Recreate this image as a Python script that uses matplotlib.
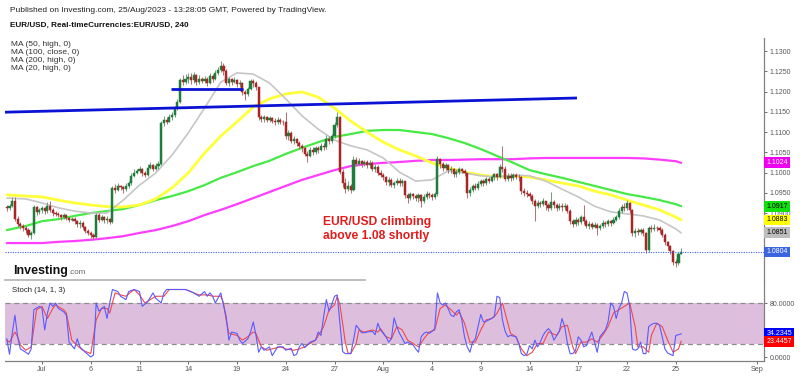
import numpy as np
import matplotlib
matplotlib.use("Agg")
import matplotlib.pyplot as plt
import matplotlib.transforms as mtransforms
from matplotlib.lines import Line2D

plt.rcParams['font.family'] = ['Liberation Sans', 'DejaVu Sans']

# ------------------------------------------------------------------ data
# time axis = trading-day index (0 = Mon 3 Jul 2023), six 4-hour candles per day
first_day = -2 - 1/6          # first visible candle: last 4h bar of Jun 28
first_open = 1.0915

closes = [
    1.0912,                                              # Jun 28
    1.0918, 1.0930, 1.0886, 1.0872, 1.0868, 1.0864,      # Jun 29
    1.0858, 1.0846, 1.0850, 1.0915, 1.0902, 1.0908,      # Jun 30
    1.0912, 1.0905, 1.0918, 1.0908, 1.0900, 1.0898,      # Jul 3
    1.0895, 1.0890, 1.0896, 1.0888, 1.0884, 1.0886,      # Jul 4
    1.0880, 1.0872, 1.0876, 1.0866, 1.0856, 1.0850,      # Jul 5
    1.0845, 1.0840, 1.0895, 1.0884, 1.0890, 1.0882,      # Jul 6
    1.0886, 1.0878, 1.0962, 1.0958, 1.0966, 1.0964,      # Jul 7
    1.0960, 1.0968, 1.0975, 1.0992, 1.1000, 1.1004,      # Jul 10
    1.1008, 1.0998, 1.0994, 1.1012, 1.1018, 1.1010,      # Jul 11
    1.1016, 1.1022, 1.1122, 1.1130, 1.1126, 1.1138,      # Jul 12
    1.1142, 1.1160, 1.1175, 1.1228, 1.1224, 1.1230,      # Jul 13
    1.1236, 1.1228, 1.1240, 1.1224, 1.1230, 1.1226,      # Jul 14
    1.1230, 1.1222, 1.1238, 1.1232, 1.1246, 1.1252,      # Jul 17
    1.1262, 1.1250, 1.1222, 1.1230, 1.1224, 1.1228,      # Jul 18
    1.1218, 1.1222, 1.1200, 1.1194, 1.1206, 1.1226,      # Jul 19
    1.1222, 1.1210, 1.1138, 1.1132, 1.1136, 1.1130,      # Jul 20
    1.1134, 1.1128, 1.1124, 1.1130, 1.1126, 1.1124,      # Jul 21
    1.1090, 1.1098, 1.1078, 1.1082, 1.1072, 1.1066,      # Jul 24
    1.1060, 1.1046, 1.1042, 1.1056, 1.1050, 1.1060,      # Jul 25
    1.1056, 1.1066, 1.1062, 1.1084, 1.1078, 1.1090,      # Jul 26
    1.1118, 1.1138, 1.1002, 1.0975, 1.0960, 1.0966,      # Jul 27
    1.0958, 1.1030, 1.1022, 1.1028, 1.1020, 1.1026,      # Jul 28
    1.1018, 1.1024, 1.1010, 1.1014, 1.1000, 1.0994,      # Jul 31
    1.0988, 1.0976, 1.0982, 1.0970, 1.0974, 1.0980,      # Aug 1
    1.0974, 1.0978, 1.0944, 1.0938, 1.0946, 1.0942,      # Aug 2
    1.0936, 1.0944, 1.0930, 1.0940, 1.0948, 1.0944,      # Aug 3
    1.0940, 1.0946, 1.1034, 1.1020, 1.1012, 1.1018,      # Aug 4
    1.1006, 1.1010, 1.0996, 1.1002, 1.1008, 1.1004,      # Aug 7
    1.0998, 1.0950, 1.0958, 1.0966, 1.0962, 1.0972,      # Aug 8
    1.0978, 1.0974, 1.0984, 1.0980, 1.0988, 1.0996,      # Aug 9
    1.0990, 1.1014, 1.1010, 1.0984, 1.0992, 1.0986,      # Aug 10
    1.0994, 1.0990, 1.0988, 1.0954, 1.0950, 1.0946,      # Aug 11
    1.0942, 1.0930, 1.0918, 1.0926, 1.0922, 1.0930,      # Aug 14
    1.0920, 1.0912, 1.0928, 1.0920, 1.0912, 1.0918,      # Aug 15
    1.0914, 1.0918, 1.0906, 1.0880, 1.0874, 1.0884,      # Aug 16
    1.0878, 1.0890, 1.0880, 1.0868, 1.0872, 1.0866,      # Aug 17
    1.0870, 1.0862, 1.0868, 1.0876, 1.0872, 1.0880,      # Aug 18
    1.0876, 1.0884, 1.0890, 1.0904, 1.0916, 1.0912,      # Aug 21
    1.0924, 1.0908, 1.0850, 1.0856, 1.0854, 1.0858,      # Aug 22
    1.0850, 1.0808, 1.0864, 1.0860, 1.0864, 1.0862,      # Aug 23
    1.0858, 1.0846, 1.0828, 1.0818, 1.0806, 1.0780,      # Aug 24
    1.0776, 1.0800, 1.0804,                              # Aug 25
]

highs = [
    1.0920,
    1.0922, 1.0940, 1.0940, 1.0892, 1.0878, 1.0873,
    1.0868, 1.0862, 1.0856, 1.0921, 1.0917, 1.0913,
    1.0918, 1.0915, 1.0928, 1.0930, 1.0912, 1.0905,
    1.0902, 1.0898, 1.0900, 1.0898, 1.0890, 1.0890,
    1.0890, 1.0884, 1.0882, 1.0880, 1.0868, 1.0860,
    1.0855, 1.0852, 1.0900, 1.0900, 1.0896, 1.0894,
    1.0892, 1.0888, 1.0966, 1.0972, 1.0975, 1.0970,
    1.0968, 1.0974, 1.0980, 1.0998, 1.1008, 1.1010,
    1.1015, 1.1012, 1.1004, 1.1020, 1.1026, 1.1022,
    1.1024, 1.1028, 1.1128, 1.1140, 1.1138, 1.1144,
    1.1150, 1.1165, 1.1182, 1.1234, 1.1240, 1.1244,
    1.1245, 1.1246, 1.1248, 1.1244, 1.1240, 1.1236,
    1.1238, 1.1236, 1.1246, 1.1244, 1.1252, 1.1260,
    1.1276, 1.1270, 1.1256, 1.1236, 1.1234, 1.1236,
    1.1230, 1.1228, 1.1224, 1.1204, 1.1212, 1.1230,
    1.1230, 1.1226, 1.1212, 1.1142, 1.1142, 1.1140,
    1.1140, 1.1138, 1.1134, 1.1136, 1.1134, 1.1130,
    1.1150, 1.1104, 1.1102, 1.1090, 1.1086, 1.1078,
    1.1070, 1.1064, 1.1052, 1.1062, 1.1064, 1.1066,
    1.1066, 1.1072, 1.1074, 1.1092, 1.1090, 1.1096,
    1.1124, 1.1149, 1.1140, 1.1008, 1.0986, 1.0980,
    1.0972, 1.1040, 1.1038, 1.1036, 1.1032, 1.1032,
    1.1030, 1.1030, 1.1028, 1.1020, 1.1018, 1.1006,
    1.0998, 1.0992, 1.0988, 1.0986, 1.0980, 1.0986,
    1.0986, 1.0984, 1.0980, 1.0950, 1.0952, 1.0950,
    1.0948, 1.0950, 1.0948, 1.0946, 1.0954, 1.0952,
    1.0950, 1.0952, 1.1040, 1.1036, 1.1026, 1.1024,
    1.1020, 1.1016, 1.1012, 1.1008, 1.1014, 1.1012,
    1.1008, 1.1000, 1.0964, 1.0972, 1.0974, 1.0978,
    1.0984, 1.0984, 1.0990, 1.0990, 1.0994, 1.1000,
    1.0998, 1.1020, 1.1066, 1.1016, 1.1000, 1.0998,
    1.1000, 1.1000, 1.0996, 1.0992, 1.0962, 1.0956,
    1.0952, 1.0946, 1.0934, 1.0932, 1.0930, 1.0936,
    1.0930, 1.0924, 1.0952, 1.0932, 1.0926, 1.0924,
    1.0924, 1.0926, 1.0922, 1.0910, 1.0886, 1.0890,
    1.0888, 1.0896, 1.0920, 1.0886, 1.0880, 1.0878,
    1.0878, 1.0876, 1.0874, 1.0882, 1.0880, 1.0886,
    1.0884, 1.0890, 1.0896, 1.0912, 1.0922, 1.0926,
    1.0932, 1.0928, 1.0910, 1.0864, 1.0862, 1.0864,
    1.0862, 1.0854, 1.0868, 1.0870, 1.0872, 1.0868,
    1.0868, 1.0862, 1.0850, 1.0832, 1.0822, 1.0810,
    1.0786, 1.0804, 1.0814,
]

lows = [
    1.0905,
    1.0908, 1.0914, 1.0880, 1.0866, 1.0860, 1.0857,
    1.0851, 1.0840, 1.0835, 1.0848, 1.0896, 1.0898,
    1.0900, 1.0897, 1.0900, 1.0902, 1.0893, 1.0892,
    1.0890, 1.0884, 1.0886, 1.0882, 1.0878, 1.0880,
    1.0874, 1.0866, 1.0862, 1.0860, 1.0850, 1.0845,
    1.0838, 1.0833, 1.0838, 1.0878, 1.0880, 1.0876,
    1.0876, 1.0872, 1.0875, 1.0950, 1.0955, 1.0956,
    1.0950, 1.0955, 1.0962, 1.0970, 1.0988, 1.0996,
    1.0998, 1.0992, 1.0988, 1.0992, 1.1008, 1.1004,
    1.1006, 1.1010, 1.1018, 1.1116, 1.1120, 1.1124,
    1.1130, 1.1138, 1.1155, 1.1172, 1.1215, 1.1218,
    1.1222, 1.1218, 1.1220, 1.1216, 1.1218, 1.1220,
    1.1220, 1.1214, 1.1218, 1.1224, 1.1228, 1.1240,
    1.1248, 1.1240, 1.1216, 1.1214, 1.1216, 1.1220,
    1.1212, 1.1210, 1.1192, 1.1180, 1.1190, 1.1204,
    1.1212, 1.1204, 1.1130, 1.1124, 1.1126, 1.1124,
    1.1126, 1.1122, 1.1118, 1.1120, 1.1120, 1.1118,
    1.1084, 1.1080, 1.1072, 1.1070, 1.1066, 1.1058,
    1.1050, 1.1040, 1.1026, 1.1038, 1.1044, 1.1046,
    1.1048, 1.1052, 1.1056, 1.1058, 1.1070, 1.1074,
    1.1086, 1.1112, 1.0996, 1.0964, 1.0950, 1.0954,
    1.0950, 1.0955, 1.1016, 1.1018, 1.1014, 1.1016,
    1.1012, 1.1012, 1.1004, 1.1002, 1.0994, 1.0988,
    1.0982, 1.0970, 1.0966, 1.0964, 1.0962, 1.0970,
    1.0968, 1.0966, 1.0936, 1.0925, 1.0932, 1.0934,
    1.0930, 1.0928, 1.0916, 1.0926, 1.0934, 1.0938,
    1.0932, 1.0934, 1.0942, 1.1012, 1.1004, 1.1006,
    1.1000, 1.0998, 1.0990, 1.0988, 1.0996, 1.0998,
    1.0992, 1.0937, 1.0942, 1.0952, 1.0956, 1.0958,
    1.0966, 1.0968, 1.0970, 1.0974, 1.0976, 1.0982,
    1.0982, 1.0986, 1.1002, 1.0978, 1.0980, 1.0980,
    1.0982, 1.0984, 1.0980, 1.0946, 1.0942, 1.0940,
    1.0934, 1.0922, 1.0880, 1.0912, 1.0914, 1.0918,
    1.0908, 1.0904, 1.0908, 1.0912, 1.0906, 1.0908,
    1.0906, 1.0908, 1.0900, 1.0874, 1.0866, 1.0868,
    1.0870, 1.0872, 1.0874, 1.0862, 1.0860, 1.0860,
    1.0862, 1.0846, 1.0858, 1.0864, 1.0866, 1.0868,
    1.0868, 1.0872, 1.0880, 1.0886, 1.0900, 1.0904,
    1.0908, 1.0900, 1.0844, 1.0842, 1.0846, 1.0848,
    1.0844, 1.0802, 1.0804, 1.0854, 1.0856, 1.0856,
    1.0852, 1.0840, 1.0822, 1.0808, 1.0800, 1.0772,
    1.0766, 1.0772, 1.0798,
]

# moving averages, read once per trading day (plus first / last candle)
ma_days = [first_day] + list(range(-1, 40)) + [39 + 2/6]
ma50_high = [1.0945, 1.0942, 1.0940, 1.0932, 1.0925, 1.0920, 1.0916, 1.0915, 1.0920, 1.0935,
             1.0962, 1.0999, 1.1048, 1.1090, 1.1125, 1.1162, 1.1182, 1.1194, 1.1199, 1.1186,
             1.1159, 1.1127, 1.1100, 1.1075, 1.1056, 1.1041, 1.1024, 1.1011, 1.1001, 1.0994,
             1.0989, 1.0992, 1.0989, 1.0982, 1.0974, 1.0967, 1.0954, 1.0945, 1.0932, 1.0920,
             1.0908, 1.0890, 1.0883]
ma100_close = [1.0858, 1.0868, 1.0880, 1.0885, 1.0893, 1.0900, 1.0905, 1.0910, 1.0920, 1.0932,
               1.0942, 1.0954, 1.0969, 1.0987, 1.1001, 1.1016, 1.1029, 1.1046, 1.1061, 1.1075,
               1.1088, 1.1095, 1.1103, 1.1105, 1.1105, 1.1100, 1.1095, 1.1085, 1.1073, 1.1058,
               1.1041, 1.1024, 1.1006, 1.0996, 1.0987, 1.0977, 1.0967, 1.0957, 1.0947, 1.0940,
               1.0932, 1.0922, 1.0917]
ma200_high = [1.0826, 1.0826, 1.0826, 1.0829, 1.0831, 1.0834, 1.0838, 1.0843, 1.0851, 1.0858,
              1.0868, 1.0880, 1.0895, 1.0908, 1.0922, 1.0937, 1.0952, 1.0967, 1.0982, 1.0994,
              1.1006, 1.1016, 1.1021, 1.1024, 1.1026, 1.1029, 1.1031, 1.1031, 1.1032, 1.1033,
              1.1033, 1.1033, 1.1035, 1.1036, 1.1036, 1.1036, 1.1036, 1.1036, 1.1036, 1.1035,
              1.1032, 1.1028, 1.1024]
ma20_high = [1.0937, 1.0935, 1.0925, 1.0913, 1.0905, 1.0900, 1.0900, 1.0932, 1.0969, 1.0999,
             1.1043, 1.1098, 1.1159, 1.1223, 1.1246, 1.1243, 1.1221, 1.1182, 1.1140, 1.1107,
             1.1080, 1.1066, 1.1056, 1.1036, 1.1001, 1.0979, 1.0982, 1.1004, 1.0999, 1.0992,
             1.0989, 1.0994, 1.0992, 1.0979, 1.0959, 1.0940, 1.0917, 1.0903, 1.0898, 1.0893,
             1.0883, 1.0861, 1.0851]

# drawn trend lines (day, price)
trend_long = [(-2.28, 1.1149), (32.92, 1.1184)]
trend_short = [(7.94, 1.1206), (12.37, 1.1206)]

# Stochastic (14, 1, 3): (candle index, value)
stoch_k = [(0, 27), (1, 4), (2, 35), (3, 62), (4, 30), (5, 12), (7, 7), (8, 4), (9, 12), (10, 70),
           (12, 75), (13, 72), (14, 40), (15, 65), (16, 80), (17, 75), (18, 80), (19, 72), (21, 67),
           (22, 62), (23, 22), (25, 12), (26, 27), (27, 15), (29, 7), (31, 0), (32, 3), (33, 80),
           (34, 68), (36, 75), (37, 57), (38, 80), (39, 100), (41, 97), (42, 90), (44, 85), (45, 97),
           (47, 100), (49, 97), (50, 75), (52, 82), (54, 95), (55, 87), (57, 80), (58, 95), (59, 100),
           (62, 100), (66, 100), (68, 97), (69, 95), (71, 90), (73, 97), (74, 90), (75, 95), (76, 90),
           (77, 80), (79, 95), (80, 77), (81, 60), (82, 25), (83, 37), (85, 35), (86, 25), (87, 20),
           (89, 27), (90, 37), (91, 52), (92, 32), (93, 7), (94, 15), (95, 10), (97, 15), (98, 2),
           (100, 15), (102, 15), (103, 10), (105, 13), (106, 2), (107, 4), (108, 15), (109, 20),
           (110, 14), (111, 18), (112, 22), (114, 25), (115, 37), (116, 32), (117, 60), (118, 85),
           (119, 68), (120, 78), (121, 90), (122, 92), (123, 50), (124, 8), (125, 5), (127, 5),
           (128, 25), (129, 47), (130, 42), (131, 36), (132, 36), (133, 37), (135, 38), (136, 33),
           (137, 50), (138, 40), (140, 30), (141, 22), (142, 27), (143, 58), (144, 45), (145, 35),
           (146, 28), (147, 20), (148, 22), (150, 18), (151, 12), (152, 7), (153, 30), (154, 35),
           (155, 37), (156, 35), (157, 38), (158, 42), (159, 95), (160, 80), (161, 77), (162, 80),
           (164, 62), (165, 60), (166, 67), (167, 70), (168, 55), (169, 30), (170, 15), (171, 7),
           (172, 22), (173, 27), (174, 45), (175, 63), (176, 52), (177, 53), (178, 55), (179, 57),
           (180, 60), (181, 90), (182, 88), (183, 55), (184, 38), (185, 30), (186, 32), (188, 30),
           (189, 20), (190, 5), (191, 2), (192, 4), (193, 17), (194, 12), (195, 25), (196, 15),
           (197, 22), (198, 32), (199, 38), (200, 42), (201, 37), (202, 25), (204, 38), (205, 57),
           (206, 45), (207, 20), (208, 5), (209, 5), (210, 10), (211, 30), (212, 25), (213, 15),
           (214, 17), (216, 37), (217, 22), (218, 7), (219, 30), (220, 35), (221, 40), (222, 52),
           (223, 80), (224, 75), (225, 57), (226, 72), (227, 80), (228, 97), (229, 95), (230, 75),
           (231, 12), (232, 10), (233, 12), (234, 22), (235, 5), (236, 5), (237, 45), (238, 48),
           (239, 50), (240, 50), (241, 47), (242, 30), (243, 12), (244, 6), (245, 4), (246, 2),
           (247, 32), (248, 33), (249, 34.2345)]
stoch_d = [(0, 25), (1, 22), (3, 37), (4, 30), (5, 18), (7, 10), (9, 15), (11, 70), (13, 75), (15, 57),
           (17, 72), (18, 77), (21, 70), (22, 65), (24, 25), (26, 17), (28, 10), (31, 5), (33, 55),
           (35, 72), (37, 72), (38, 65), (40, 95), (42, 92), (44, 90), (47, 100), (49, 92), (51, 80),
           (53, 85), (55, 90), (58, 90), (60, 100), (66, 100), (69, 95), (71, 92), (74, 92), (76, 90),
           (79, 90), (80, 80), (81, 55), (82, 35), (85, 32), (87, 25), (89, 30), (91, 37), (92, 35),
           (94, 15), (96, 10), (98, 12), (101, 15), (103, 12), (106, 10), (108, 12), (110, 15),
           (112, 20), (114, 25), (117, 45), (119, 70), (121, 77), (122, 90), (123, 77), (124, 50),
           (125, 21), (126, 6), (127, 5), (129, 20), (130, 40), (132, 37), (135, 40), (137, 37),
           (138, 42), (140, 30), (142, 27), (144, 45), (146, 40), (148, 25), (150, 20), (152, 15),
           (154, 27), (156, 37), (158, 40), (160, 72), (162, 77), (164, 70), (166, 62), (167, 67),
           (169, 50), (171, 22), (173, 22), (175, 40), (177, 55), (179, 57), (180, 60), (181, 65),
           (183, 80), (185, 50), (186, 35), (188, 30), (190, 12), (192, 2), (194, 7), (196, 20),
           (198, 20), (200, 37), (203, 32), (205, 45), (207, 47), (209, 15), (210, 5), (212, 22),
           (214, 22), (216, 27), (218, 22), (220, 32), (222, 45), (224, 65), (226, 70), (228, 75),
           (230, 80), (232, 45), (233, 15), (235, 15), (237, 7), (238, 32), (240, 50), (242, 45),
           (244, 25), (246, 7), (248, 12), (249, 23.4457)]

xtick_days = [0, 3, 6, 9, 12, 15, 18, 21, 24, 27, 30, 33, 36, 39, 44]
xtick_labels = ['Jul', '6', '11', '14', '19', '24', '27', 'Aug', '4', '9', '14', '17', '22', '25', 'Sep']
# visible right-axis labels (1.0850 / 1.0800 / 40 sit under the value boxes)
price_ticks = [1.0900, 1.0950, 1.1000, 1.1050, 1.1100, 1.1150, 1.1200, 1.1250, 1.1300]
stoch_ticks = [0, 80]

title1 = "Published on Investing.com, 25/Aug/2023 - 13:28:05 GMT, Powered by TradingView."
title2 = "EUR/USD, Real-timeCurrencies:EUR/USD, 240"
ma_legend = ["MA (50, high, 0)", "MA (100, close, 0)", "MA (200, high, 0)", "MA (20, high, 0)"]
note = "EUR/USD climbing\nabove 1.08 shortly"

# ------------------------------------------------------------------ figure
W, H = 800, 376
fig = plt.figure(figsize=(W / 100, H / 100), dpi=100)
fig.patch.set_facecolor('white')

def fx(px):
    return px / W

def fy(py):
    return 1 - py / H

XL = (-2.277, 44.43)
ax = fig.add_axes([fx(5), fy(281), (764 - 5) / W, (281 - 38) / H])
axs = fig.add_axes([fx(5), fy(361), (764 - 5) / W, (361 - 281) / H])

# ---------------- main price panel
c = np.array(closes)
hi = np.array(highs)
lo = np.array(lows)
o = np.concatenate([[first_open], c[:-1]])
n = len(c)
days = first_day + np.arange(n) / 6.0

up = c >= o
body_col = np.where(up, '#1f7d3c', '#a82626')
wick_col = np.where(up, '#74a082', '#b07575')

ax.plot(ma_days, ma200_high, color='#ff3dff', lw=1.6, zorder=2, solid_capstyle='round')
ax.plot(ma_days, ma100_close, color='#45ea45', lw=1.6, zorder=2, solid_capstyle='round')
ax.plot(ma_days, ma50_high, color='#ffff3a', lw=2.0, zorder=2, solid_capstyle='round')
ax.plot(ma_days, ma20_high, color='#c6c6c6', lw=1.2, zorder=2, solid_capstyle='round')

ax.vlines(days, lo, hi, colors=wick_col, lw=0.75, zorder=3)
ax.bar(days, c - o, bottom=o, width=0.13, color=body_col, edgecolor=body_col, lw=0.35, zorder=4)

(tx0, ty0), (tx1, ty1) = trend_long
ax.plot([tx0, tx1], [ty0, ty1], color='#0a12d4', lw=2.0, zorder=5, solid_capstyle='butt')
(sx0, sy0), (sx1, sy1) = trend_short
ax.plot([sx0, sx1], [sy0, sy1], color='#0a12d4', lw=2.0, zorder=5, solid_capstyle='butt')

ax.axhline(c[-1], color='#3f63e6', lw=0.8, ls=(0, (1, 1.2)), zorder=5)

ax.set_xlim(*XL)
ax.set_ylim(1.1300 - (281 - 51) / 4052, 1.1300 + (51 - 38) / 4052)
for s in ['top', 'left', 'bottom']:
    ax.spines[s].set_visible(False)
ax.spines['right'].set_color('#808080')
ax.spines['right'].set_linewidth(0.9)
ax.set_xticks([])
ax.yaxis.tick_right()
ax.set_yticks(price_ticks)
ax.set_yticklabels([f'{v:.4f}' for v in price_ticks])
ax.tick_params(axis='y', labelsize=5, colors='#555555', length=2.5, width=0.6, pad=1.5)

blend = mtransforms.blended_transform_factory(ax.transAxes, ax.transData)
def price_box(a, tr, val, fmt, fc, tc):
    a.text(1.0 + 2.2 / 759, val, fmt.format(val), transform=tr, ha='left', va='center',
           fontsize=5, color=tc, zorder=20, clip_on=False,
           bbox=dict(boxstyle='square,pad=0.28', fc=fc, ec='none'))

price_box(ax, blend, ma200_high[-1], '{:.4f}', '#ee00ee', 'white')
price_box(ax, blend, ma100_close[-1], '{:.4f}', '#10e010', 'black')
price_box(ax, blend, ma50_high[-1], '{:.4f}', '#ffff00', 'black')
price_box(ax, blend, ma20_high[-1], '{:.4f}', '#bdbdbd', 'black')
price_box(ax, blend, c[-1], '{:.4f}', '#3a64e0', 'white')

# ---------------- stochastic panel
axs.fill_between(XL, 20, 80, color='#ddbfdd', lw=0, zorder=1)
axs.axhline(80, color='#8c8c8c', lw=0.9, ls=(0, (4, 3)), zorder=2)
axs.axhline(20, color='#8c8c8c', lw=0.9, ls=(0, (4, 3)), zorder=2)
ki, kv = zip(*stoch_k)
di, dv = zip(*stoch_d)
axs.plot(first_day + np.array(di) / 6.0, dv, color='#f24848', lw=0.8, zorder=3)
axs.plot(first_day + np.array(ki) / 6.0, kv, color='#5a5aff', lw=0.8, zorder=4)

axs.set_xlim(*XL)
axs.set_ylim(-4 / 0.675, 80 + (303 - 281) / 0.675)
for s in ['top', 'left']:
    axs.spines[s].set_visible(False)
for s in ['right', 'bottom']:
    axs.spines[s].set_color('#808080')
    axs.spines[s].set_linewidth(0.9)
axs.yaxis.tick_right()
axs.set_yticks(stoch_ticks)
axs.set_yticklabels([f'{v:.4f}' for v in stoch_ticks])
axs.tick_params(axis='y', labelsize=5, colors='#555555', length=2.5, width=0.6, pad=1.5)
axs.set_xticks(xtick_days)
axs.set_xticklabels(xtick_labels)
axs.tick_params(axis='x', labelsize=5.2, colors='#555555', length=2, width=0.6, pad=1.5)

blend_s = mtransforms.blended_transform_factory(axs.transAxes, axs.transData)
price_box(axs, blend_s, kv[-1], '{:.4f}', '#0000ff', 'white')
price_box(axs, blend_s, dv[-1], '{:.4f}', '#ff0000', 'white')

# ---------------- texts
fig.text(fx(10), fy(10), title1, fontsize=6.0, color='#222222', va='center', ha='left')
fig.text(fx(10), fy(25), title2, fontsize=5.9, color='#111111', weight='bold', va='center', ha='left')
for k, s in enumerate(ma_legend):
    fig.text(fx(11), fy(44 + 8.2 * k), s, fontsize=6.0, color='#333333', va='center', ha='left')

fig.text(fx(323), fy(229), note, fontsize=8.7, color='#e31b1b', weight='bold',
         va='center', ha='left', linespacing=1.15)

fig.text(fx(13), fy(274), 'Investing', fontsize=9, weight='bold', color='#111111',
         va='baseline', ha='left')
fig.text(fx(68.5), fy(274), '.com', fontsize=5.8, color='#666666', va='baseline', ha='left')
fig.add_artist(Line2D([fx(5), fx(365)], [fy(280), fy(280)], transform=fig.transFigure,
                      color='#b3b3b3', lw=1.2))
fig.text(fx(12), fy(290.5), 'Stoch (14, 1, 3)', fontsize=5.6, color='#222222', va='center', ha='left')

fig.savefig('out.png', dpi=100, facecolor='white')
